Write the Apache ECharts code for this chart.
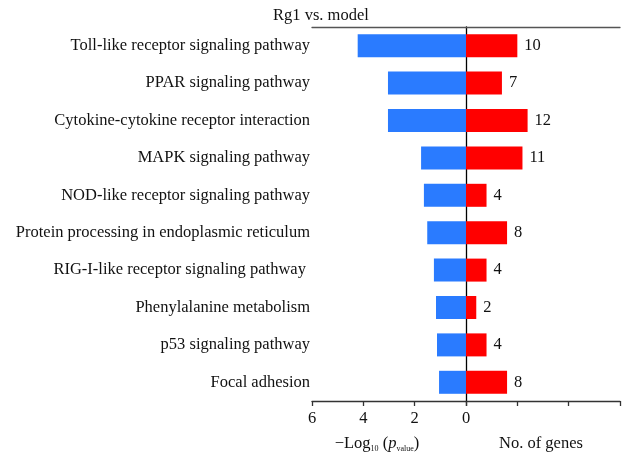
<!DOCTYPE html>
<html><head><meta charset="utf-8">
<script src="https://cdn.jsdelivr.net/npm/echarts@6/dist/echarts.min.js"></script>
<style>html,body{margin:0;padding:0;background:#fff}#c{width:631px;height:463px}</style>
</head><body><div id="c"></div>
<script>
const categories = [
  'Toll-like receptor signaling pathway',
  'PPAR signaling pathway',
  'Cytokine-cytokine receptor interaction',
  'MAPK signaling pathway',
  'NOD-like receptor signaling pathway',
  'Protein processing in endoplasmic reticulum',
  'RIG-I-like receptor signaling pathway ',
  'Phenylalanine metabolism',
  'p53 signaling pathway',
  'Focal adhesion'
];
const negLogP = [4.22, 3.04, 3.04, 1.75, 1.64, 1.51, 1.25, 1.17, 1.13, 1.05];
const geneCounts = [10, 7, 12, 11, 4, 8, 4, 2, 4, 8];
const leftTicks = [0, 2, 4, 6];
const rightTicks = [0, 10, 20, 30];
const title = 'Rg1 vs. model';

const FONT = 'Liberation Serif';
const AX = '#333';
const FS = 16.5;
const chart = echarts.init(document.getElementById('c'), null, {renderer: 'canvas'});
const common = {fontFamily: FONT, color: '#111', fontSize: FS};
chart.setOption({
  animation: false,
  textStyle: {fontFamily: FONT},
  title: {text: title, left: 268, top: 2, textStyle: {fontFamily: FONT, fontWeight: 'normal', fontSize: FS, color: '#111'}},
  grid: [
    {left: 312, width: 154, top: 27, height: 374},
    {left: 466, width: 154, top: 27, height: 374}
  ],
  xAxis: [
    {gridIndex: 0, type: 'value', min: leftTicks[0], max: leftTicks[leftTicks.length-1], interval: 2, inverse: true, position: 'bottom',
     axisLine: {show: true, lineStyle: {color: AX, width: 1.3}}, axisTick: {show: true, length: 5, lineStyle: {color: AX, width: 1.3}},
     axisLabel: Object.assign({margin: 9}, common), splitLine: {show: false},
     name: '{a|−Log}{s|10}{a| (}{i|p}{s|value}{a|)}', nameLocation: 'middle', nameGap: 34,
     nameTextStyle: {padding: [0, 24, 0, 0], rich: {
       a: {fontFamily: FONT, fontSize: FS, color: '#111'},
       i: {fontFamily: FONT, fontSize: FS, fontStyle: 'italic', color: '#111'},
       s: {fontFamily: FONT, fontSize: 8, color: '#111', padding: [10, 0, 0, 0]}
     }}},
    {gridIndex: 1, type: 'value', min: rightTicks[0], max: rightTicks[rightTicks.length-1], interval: 10, position: 'bottom',
     axisLine: {show: true, lineStyle: {color: AX, width: 1.3}}, axisTick: {show: true, length: 5, lineStyle: {color: AX, width: 1.3}},
     axisLabel: {show: false}, splitLine: {show: false},
     name: 'No. of genes', nameLocation: 'middle', nameGap: 34,
     nameTextStyle: Object.assign({padding: [0, 4, 0, 0]}, common)},
    {gridIndex: 0, type: 'value', min: 0, max: 6, position: 'top', inverse: true,
     axisLine: {show: true, lineStyle: {color: '#555', width: 1.3}}, axisTick: {show: false}, axisLabel: {show: false}, splitLine: {show: false}},
    {gridIndex: 1, type: 'value', min: 0, max: 30, position: 'top',
     axisLine: {show: true, lineStyle: {color: '#555', width: 1.3}}, axisTick: {show: false}, axisLabel: {show: false}, splitLine: {show: false}}
  ],
  yAxis: [
    {gridIndex: 0, type: 'category', data: categories, inverse: true,
     axisLine: {show: false}, axisTick: {show: false},
     axisLabel: Object.assign({margin: 2}, common)},
    {gridIndex: 1, type: 'category', data: categories, inverse: true,
     axisLine: {show: true, lineStyle: {color: '#000', width: 1.3}}, axisTick: {show: false}, axisLabel: {show: false}}
  ],
  series: [
    {type: 'bar', xAxisIndex: 0, yAxisIndex: 0, data: negLogP, barWidth: 23,
     itemStyle: {color: '#2a7bff'}},
    {type: 'bar', xAxisIndex: 1, yAxisIndex: 1, data: geneCounts, barWidth: 23,
     itemStyle: {color: '#ff0000'}, z: 1,
     label: Object.assign({show: true, position: 'right', distance: 7}, common)}
  ]
});
</script></body></html>
